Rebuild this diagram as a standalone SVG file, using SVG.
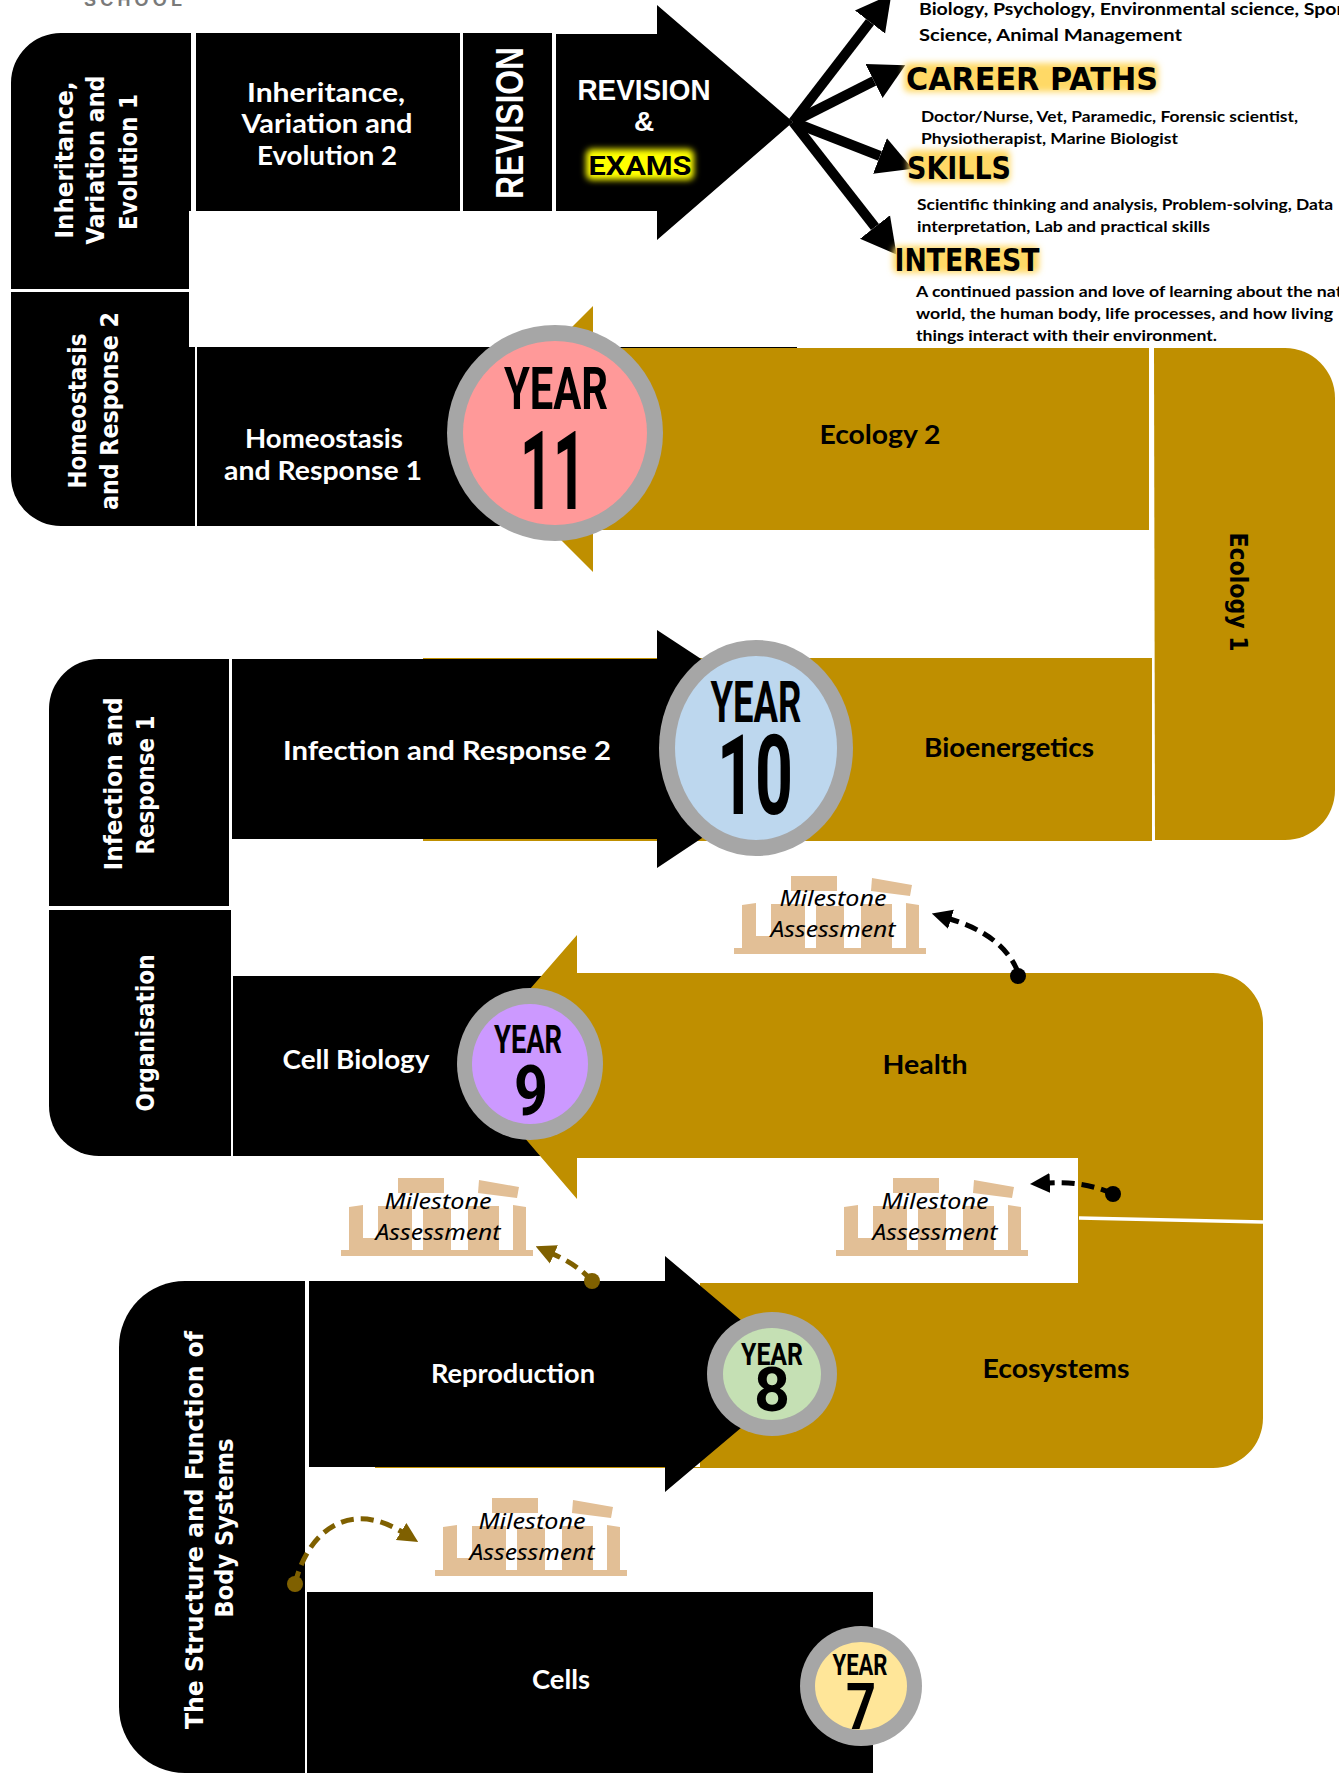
<svg xmlns="http://www.w3.org/2000/svg" xmlns:xlink="http://www.w3.org/1999/xlink" width="1339" height="1773" viewBox="0 0 1339 1773">
<style>
text{text-anchor:middle}
.w{fill:#fff;font-family:"Lato","Noto Sans",sans-serif;font-weight:700;font-size:27px}
.k{fill:#000;font-family:"Lato","Noto Sans",sans-serif;font-weight:700;font-size:27px}
.vw{fill:#fff;font-family:"DejaVu Sans",sans-serif;font-weight:700;font-size:25px}
.vk{fill:#000;font-family:"DejaVu Sans",sans-serif;font-weight:700;font-size:25px}
.y{fill:#000;font-family:"Roboto",sans-serif;font-weight:700}
.rev{fill:#fff;font-family:"Liberation Sans",sans-serif;font-weight:700}
.h{fill:#000;font-family:"DejaVu Sans",sans-serif;font-weight:700;font-size:32px}
.b{fill:#000;font-family:"Lato","Carlito",sans-serif;font-weight:700;font-size:17px;text-anchor:start}
.m{fill:#000;font-family:"Noto Sans",sans-serif;font-style:italic;font-size:22px}
.gold{fill:#BF8F00}
.blk{fill:#000}
.ring{fill:#A6A6A6}
.dk{fill:none;stroke:#000;stroke-width:5;stroke-dasharray:13 7}
.db{fill:none;stroke:#7F6000;stroke-width:5;stroke-dasharray:13 7}
.out{stroke:#000;stroke-width:10;fill:none;marker-end:url(#big)}
</style>
<defs>
<filter id="bl" x="-20%" y="-40%" width="140%" height="180%"><feGaussianBlur stdDeviation="3"/></filter>
<filter id="sb" x="-5%" y="-5%" width="110%" height="110%"><feGaussianBlur stdDeviation="0.7"/></filter>
<marker id="big" markerUnits="userSpaceOnUse" markerWidth="36" markerHeight="40" refX="0" refY="20" orient="auto"><path d="M0,1 L35,20 L0,39 Z" fill="#000"/></marker>
<marker id="hk" markerUnits="userSpaceOnUse" markerWidth="20" markerHeight="22" refX="1" refY="11" orient="auto"><path d="M0,1 L20,11 L0,21 Z" fill="#000"/></marker>
<marker id="hb" markerUnits="userSpaceOnUse" markerWidth="20" markerHeight="22" refX="1" refY="11" orient="auto"><path d="M0,1 L20,11 L0,21 Z" fill="#7F6000"/></marker>
<g id="temple" fill="#E2BF96" filter="url(#sb)">
<rect x="-1" y="72" width="192" height="6"/>
<path d="M7,29 L21,27 V72 H7 Z"/>
<rect x="21" y="60" width="15" height="12"/>
<rect x="36" y="28" width="34" height="44"/>
<rect x="81" y="30" width="28" height="42"/>
<rect x="126" y="28" width="31" height="44"/>
<path d="M171,27 L184,29 V72 H171 Z"/>
<rect x="56" y="0" width="46" height="15"/>
<path d="M137,2 L177,9 L175,20 L136,15 Z"/>
</g>
</defs>

<text x="133" y="6" fill="#7a7a7a" font-family="Liberation Sans, sans-serif" font-weight="700" font-size="18" textLength="98" lengthAdjust="spacing">SCHOOL</text>

<g id="connectors">
<line class="out" x1="793" y1="122" x2="870" y2="22"/>
<line class="out" x1="793" y1="122" x2="874" y2="81"/>
<line class="out" x1="793" y1="122" x2="880" y2="156"/>
<line class="out" x1="793" y1="122" x2="875" y2="227"/>
</g>

<g id="y11-gold">
<rect x="600" y="347" width="197" height="2" fill="#000"/>
<path class="gold" d="M460,439 L593,306 V348 H1149 V530 H593 V572 Z"/>
<text class="k" x="880" y="444" textLength="121" lengthAdjust="spacingAndGlyphs">Ecology 2</text>
</g>
<g id="ecology1">
<path class="gold" d="M1154,348 H1285 A50,50 0 0 1 1335,398 V790 A50,50 0 0 1 1285,840 H1155 Z"/>
<text class="vk" transform="translate(1230,592) rotate(90)" textLength="119" lengthAdjust="spacingAndGlyphs">Ecology 1</text>
</g>
<g id="bioenergetics">
<rect class="gold" x="423" y="658" width="729" height="183"/>
<text class="k" x="1009" y="757" textLength="170" lengthAdjust="spacingAndGlyphs">Bioenergetics</text>
</g>

<g id="inh1">
<path class="blk" d="M11,289 V83 A50,50 0 0 1 61,33 H191 V211 H189 V289 Z"/>
<text class="vw" transform="translate(73,160) rotate(-90)" textLength="157" lengthAdjust="spacingAndGlyphs">Inheritance,</text>
<text class="vw" transform="translate(104,160) rotate(-90)" textLength="169" lengthAdjust="spacingAndGlyphs">Variation and</text>
<text class="vw" transform="translate(137,162) rotate(-90)" textLength="136" lengthAdjust="spacingAndGlyphs">Evolution 1</text>
</g>
<g id="inh2">
<rect class="blk" x="196" y="33" width="264" height="178"/>
<text class="w" x="326" y="102" textLength="158" lengthAdjust="spacingAndGlyphs">Inheritance,</text>
<text class="w" x="327" y="133" textLength="171" lengthAdjust="spacingAndGlyphs">Variation and</text>
<text class="w" x="327" y="165" textLength="140" lengthAdjust="spacingAndGlyphs">Evolution 2</text>
</g>
<g id="revision">
<rect class="blk" x="463" y="33" width="89" height="178"/>
<text class="rev" transform="translate(523,123) rotate(-90)" font-size="38" textLength="152" lengthAdjust="spacingAndGlyphs">REVISION</text>
</g>
<g id="revision-exams">
<path class="blk" d="M556,34 H657 V5 L793,122 L657,240 V211 H556 Z"/>
<text class="rev" x="644" y="100" font-size="30" textLength="133" lengthAdjust="spacingAndGlyphs">REVISION</text>
<text class="rev" x="644" y="131" font-size="28">&amp;</text>
<rect x="586" y="149" width="108" height="31" rx="6" fill="#FFFF00" filter="url(#bl)"/>
<text x="640" y="175" class="y" font-size="25" textLength="103" lengthAdjust="spacingAndGlyphs">EXAMS</text>
</g>

<g id="homeo2">
<path class="blk" d="M11,292 H189 V347 H195 V526 H61 A50,50 0 0 1 11,476 Z"/>
<text class="vw" transform="translate(86,411) rotate(-90)" textLength="155" lengthAdjust="spacingAndGlyphs">Homeostasis</text>
<text class="vw" transform="translate(118,411) rotate(-90)" textLength="198" lengthAdjust="spacingAndGlyphs">and Response 2</text>
</g>
<g id="homeo1">
<rect class="blk" x="197" y="347" width="303" height="179"/>
<text class="w" x="324" y="448" textLength="158" lengthAdjust="spacingAndGlyphs">Homeostasis</text>
<text class="w" x="323" y="480" textLength="198" lengthAdjust="spacingAndGlyphs">and Response 1</text>
</g>
<g id="year11">
<circle class="ring" cx="555" cy="433" r="108"/>
<circle cx="555" cy="433" r="92" fill="#FF9999"/>
<text class="y" x="556" y="409" font-size="60" textLength="104" lengthAdjust="spacingAndGlyphs">YEAR</text>
<text class="y" x="553" y="509" font-size="110" textLength="66" lengthAdjust="spacingAndGlyphs">11</text>
</g>

<g id="inf1">
<path class="blk" d="M49,906 V709 A50,50 0 0 1 99,659 H229 V906 Z"/>
<text class="vw" transform="translate(122,784) rotate(-90)" textLength="173" lengthAdjust="spacingAndGlyphs">Infection and</text>
<text class="vw" transform="translate(154,785) rotate(-90)" textLength="139" lengthAdjust="spacingAndGlyphs">Response 1</text>
</g>
<g id="inf2">
<path class="blk" d="M232,659 H657 V630 L837,748 L657,868 V839 H232 Z"/>
<text class="w" x="447" y="760" textLength="328" lengthAdjust="spacingAndGlyphs">Infection and Response 2</text>
</g>
<g id="year10">
<ellipse class="ring" cx="756" cy="748" rx="97" ry="108"/>
<ellipse cx="756" cy="748" rx="81" ry="92" fill="#BDD7EE"/>
<text class="y" x="756" y="722" font-size="57" textLength="91" lengthAdjust="spacingAndGlyphs">YEAR</text>
<text class="y" x="755" y="814" font-size="111" textLength="76" lengthAdjust="spacingAndGlyphs">10</text>
</g>

<g id="organisation">
<path class="blk" d="M49,910 H231 V1156 H99 A50,50 0 0 1 49,1106 Z"/>
<text class="vw" transform="translate(154,1033) rotate(-90)" textLength="157" lengthAdjust="spacingAndGlyphs">Organisation</text>
</g>
<g id="cell-biology">
<rect class="blk" x="233" y="976" width="310" height="180"/>
<text class="w" x="356" y="1069" textLength="147" lengthAdjust="spacingAndGlyphs">Cell Biology</text>
</g>
<g id="health-ecosystems">
<path class="gold" d="M463,1066 L577,935 V973 H1213 A50,50 0 0 1 1263,1023 V1418 A50,50 0 0 1 1213,1468 H375 V1467 H700 V1283 H1078 V1158 H577 V1199 Z"/>
<path d="M1079,1218 L1263,1222" stroke="#fff" stroke-width="3.5" fill="none"/>
<text class="k" x="925" y="1074" textLength="85" lengthAdjust="spacingAndGlyphs">Health</text>
<text class="k" x="1056" y="1378" textLength="147" lengthAdjust="spacingAndGlyphs">Ecosystems</text>
</g>
<g id="year9">
<ellipse class="ring" cx="530" cy="1064" rx="73" ry="76"/>
<ellipse cx="530" cy="1064" rx="58" ry="60" fill="#CC99FF"/>
<text class="y" x="528" y="1053" font-size="39" textLength="68" lengthAdjust="spacingAndGlyphs">YEAR</text>
<text class="y" x="531" y="1115" font-size="70" textLength="34" lengthAdjust="spacingAndGlyphs">9</text>
</g>

<g id="structure">
<path class="blk" d="M119,1347 A66,66 0 0 1 185,1281 H305 V1773 H185 A66,66 0 0 1 119,1707 Z"/>
<text class="vw" transform="translate(203,1530) rotate(-90)" textLength="398" lengthAdjust="spacingAndGlyphs">The Structure and Function of</text>
<text class="vw" transform="translate(233,1528) rotate(-90)" textLength="179" lengthAdjust="spacingAndGlyphs">Body Systems</text>
</g>
<g id="reproduction">
<path class="blk" d="M309,1281 H665 V1256 L805,1374 L665,1492 V1467 H309 Z"/>
<text class="w" x="513" y="1383" textLength="164" lengthAdjust="spacingAndGlyphs">Reproduction</text>
</g>
<g id="year8">
<ellipse class="ring" cx="772" cy="1374" rx="65" ry="62"/>
<ellipse cx="772" cy="1374" rx="49" ry="46" fill="#C5E0B4"/>
<text class="y" x="772" y="1365" font-size="32" textLength="62" lengthAdjust="spacingAndGlyphs">YEAR</text>
<text class="y" x="772" y="1411" font-size="62" textLength="36" lengthAdjust="spacingAndGlyphs">8</text>
</g>
<g id="cells">
<rect class="blk" x="307" y="1592" width="566" height="181"/>
<text class="w" x="561" y="1689" textLength="58" lengthAdjust="spacingAndGlyphs">Cells</text>
</g>
<g id="year7">
<ellipse class="ring" cx="861" cy="1686" rx="61" ry="60"/>
<ellipse cx="861" cy="1686" rx="46" ry="44" fill="#FFE699"/>
<text class="y" x="860" y="1675" font-size="30" textLength="55" lengthAdjust="spacingAndGlyphs">YEAR</text>
<text class="y" x="861" y="1729" font-size="64" textLength="30" lengthAdjust="spacingAndGlyphs">7</text>
</g>

<g id="milestone1"><use xlink:href="#temple" href="#temple" x="735" y="876"/><text class="m" x="833" y="906" textLength="107" lengthAdjust="spacingAndGlyphs">Milestone</text><text class="m" x="833" y="937" textLength="125" lengthAdjust="spacingAndGlyphs">Assessment</text></g>
<g id="milestone2"><use xlink:href="#temple" href="#temple" x="342" y="1178"/><text class="m" x="438" y="1209" textLength="107" lengthAdjust="spacingAndGlyphs">Milestone</text><text class="m" x="438" y="1240" textLength="125" lengthAdjust="spacingAndGlyphs">Assessment</text></g>
<g id="milestone3"><use xlink:href="#temple" href="#temple" x="837" y="1178"/><text class="m" x="935" y="1209" textLength="107" lengthAdjust="spacingAndGlyphs">Milestone</text><text class="m" x="935" y="1240" textLength="125" lengthAdjust="spacingAndGlyphs">Assessment</text></g>
<g id="milestone4"><use xlink:href="#temple" href="#temple" x="436" y="1498"/><text class="m" x="532" y="1529" textLength="107" lengthAdjust="spacingAndGlyphs">Milestone</text><text class="m" x="532" y="1560" textLength="125" lengthAdjust="spacingAndGlyphs">Assessment</text></g>

<g id="milestone-links">
<path class="dk" d="M1018,972 Q1003,935 950,919" marker-end="url(#hk)"/>
<circle cx="1018" cy="976" r="8"/>
<path class="dk" d="M1113,1194 Q1085,1181 1049,1183" marker-end="url(#hk)"/>
<circle cx="1113" cy="1194" r="8"/>
<path class="db" d="M592,1281 Q578,1265 553,1254" marker-end="url(#hb)"/>
<circle cx="592" cy="1281" r="8" fill="#7F6000"/>
<path class="db" d="M295,1584 C308,1530 350,1500 402,1532" marker-end="url(#hb)"/>
<circle cx="295" cy="1584" r="8" fill="#7F6000"/>
</g>

<g id="career-text">
<text class="b" x="919" y="15" textLength="432" lengthAdjust="spacingAndGlyphs">Biology, Psychology, Environmental science, Sport</text>
<text class="b" x="919" y="41" textLength="263" lengthAdjust="spacingAndGlyphs">Science, Animal Management</text>
</g>
<g id="career-paths">
<rect x="904" y="63" width="254" height="29" rx="5" fill="#FFD966" filter="url(#bl)"/>
<text class="h" x="1032" y="90" textLength="252" lengthAdjust="spacingAndGlyphs">CAREER PATHS</text>
<text class="b" x="921" y="122" style="font-size:15.5px" textLength="377" lengthAdjust="spacingAndGlyphs">Doctor/Nurse, Vet, Paramedic, Forensic scientist,</text>
<text class="b" x="921" y="144" style="font-size:15.5px" textLength="257" lengthAdjust="spacingAndGlyphs">Physiotherapist, Marine Biologist</text>
</g>
<g id="skills">
<rect x="908" y="150" width="102" height="32" rx="5" fill="#FFD966" filter="url(#bl)"/>
<text class="h" x="959" y="179" textLength="104" lengthAdjust="spacingAndGlyphs">SKILLS</text>
<text class="b" x="917" y="210" style="font-size:15.5px" textLength="416" lengthAdjust="spacingAndGlyphs">Scientific thinking and analysis, Problem-solving, Data</text>
<text class="b" x="917" y="232" style="font-size:15.5px" textLength="293" lengthAdjust="spacingAndGlyphs">interpretation, Lab and practical skills</text>
</g>
<g id="interest">
<rect x="893" y="246" width="146" height="27" rx="5" fill="#FFD966" filter="url(#bl)"/>
<text class="h" x="967" y="271" textLength="145" lengthAdjust="spacingAndGlyphs">INTEREST</text>
<text class="b" x="916" y="297" style="font-size:15.5px" textLength="456" lengthAdjust="spacingAndGlyphs">A continued passion and love of learning about the natural</text>
<text class="b" x="916" y="319" style="font-size:15.5px" textLength="417" lengthAdjust="spacingAndGlyphs">world, the human body, life processes, and how living</text>
<text class="b" x="916" y="341" style="font-size:15.5px" textLength="301" lengthAdjust="spacingAndGlyphs">things interact with their environment.</text>
</g>
</svg>
